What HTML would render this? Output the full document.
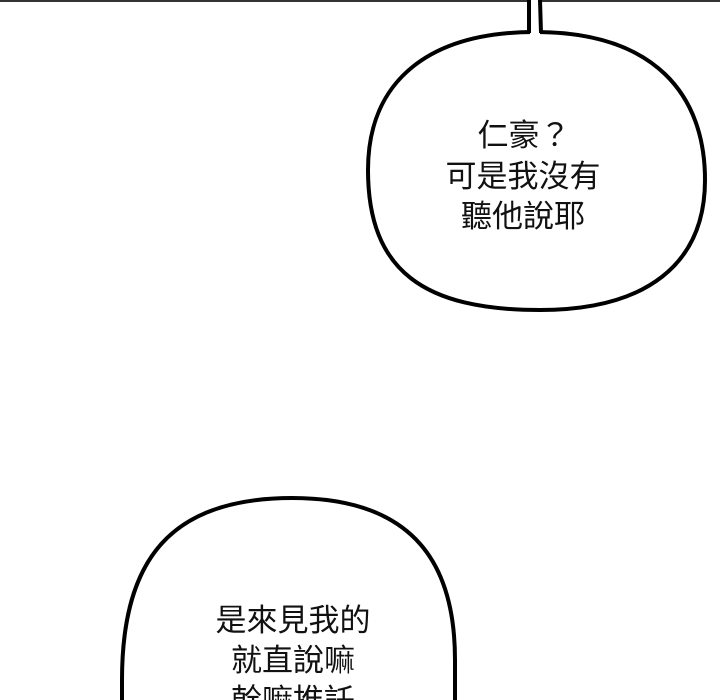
<!DOCTYPE html>
<html><head><meta charset="utf-8"><style>
html,body{margin:0;padding:0;background:#fff;width:720px;height:700px;overflow:hidden}
svg{display:block}
text{font-family:"Liberation Sans","Noto Sans CJK TC",sans-serif;font-size:31px;fill:#111}
</style></head><body>
<svg width="720" height="700" viewBox="0 0 720 700">
<rect x="0" y="0" width="720" height="2" fill="#333"/>
<path d="M535 32 C655 32 705 95 705 180 C705 265 645 310 540 310 C425 310 368 272 368 170 C368 80 430 32 535 32 Z" fill="#fff" stroke="#000" stroke-width="4"/>
<rect x="530" y="0" width="10" height="36" fill="#fff"/>
<line x1="529" y1="0" x2="529" y2="33" stroke="#000" stroke-width="4"/>
<line x1="540" y1="0" x2="541" y2="33" stroke="#000" stroke-width="4"/>
<path d="M292 498 C415 498 455 565 455 660 L455 720 L122 720 L122 680 C122 560 170 498 292 498 Z" fill="#fff" stroke="#000" stroke-width="4"/>
<g text-anchor="middle">
<text x="524" y="146">仁豪？</text>
<text x="523" y="187">可是我沒有</text>
<text x="523" y="227">聽他說耶</text>
<text x="293" y="631">是來見我的</text>
<text x="293" y="671">就直說嘛</text>
<text x="293" y="711">幹嘛推託</text>
</g>
</svg>
</body></html>
